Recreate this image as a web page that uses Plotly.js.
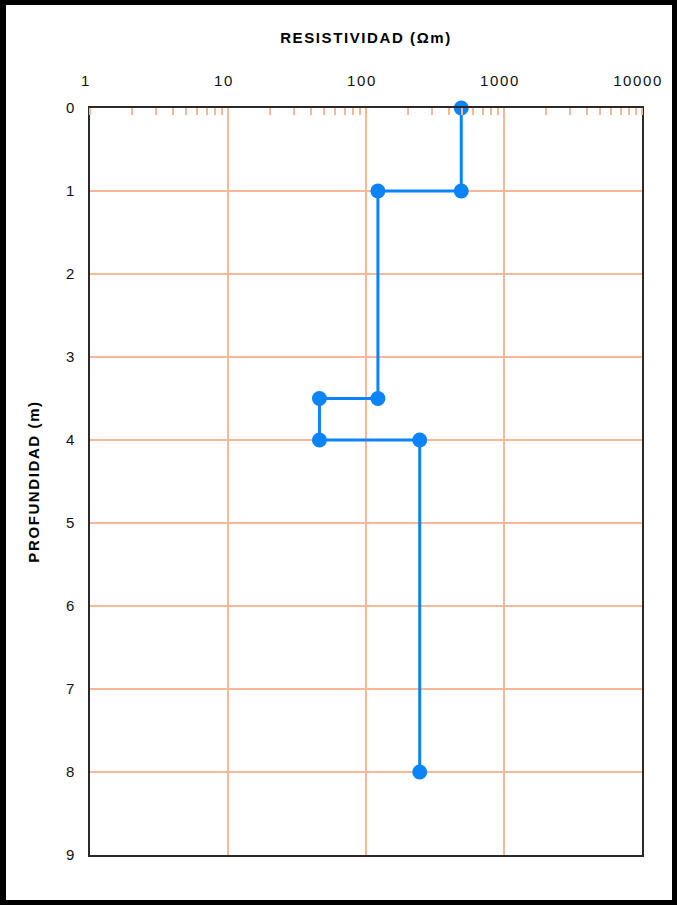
<!DOCTYPE html>
<html>
<head>
<meta charset="utf-8">
<script src="https://cdn.plot.ly/plotly-3.0.1.min.js"></script>
<style>
  html, body { margin: 0; padding: 0; background: #fff; }
  #wrap { position: relative; width: 677px; height: 905px; }
  #chart { position: absolute; left: 0; top: 0; width: 677px; height: 905px; }
  #frame { position: absolute; left: 0; top: 0; width: 677px; height: 905px; box-sizing: border-box;
           border: 5px solid #000; border-left-width: 6px; pointer-events: none; }
  #chart .main-svg text { letter-spacing: 1.6px; }
</style>
</head>
<body>
<div id="wrap">
  <div id="chart"></div>
  <div id="frame"></div>
</div>
<script>
// Data (resistivity in ohm-m, depth in m)
const resistivity = [490, 490, 122, 122, 46, 46, 245, 245];
const depth       = [0, 1, 1, 3.5, 3.5, 4, 4, 8];

const xTickVals = [1, 10, 100, 1000, 10000];
const xTickText = ["1", "10", "100", "1000", "10000"];
const yTickVals = [0, 1, 2, 3, 4, 5, 6, 7, 8, 9];

const titleText = "RESISTIVIDAD (Ωm)";
const yTitleText = "PROFUNDIDAD (m)";

const blue = "#0b84fa";
const grid = "#f6b896";

const trace = {
  x: resistivity,
  y: depth,
  type: "scatter",
  mode: "lines+markers",
  line: { color: blue, width: 3 },
  marker: { color: blue, size: 15 },
  cliponaxis: false,
  hoverinfo: "skip"
};

const layout = {
  width: 677,
  height: 905,
  margin: { l: 90, r: 35, t: 108, b: 50 },
  paper_bgcolor: "#fff",
  plot_bgcolor: "#fff",
  showlegend: false,
  font: { family: "Liberation Sans, Arial, sans-serif", color: "#000", size: 14 },
  title: {
    text: "<b>" + titleText + "</b>",
    font: { family: "Liberation Sans, Arial, sans-serif", size: 15, color: "#000" },
    xref: "paper", x: 0.5, xanchor: "center",
    yref: "container", y: 1 - 38 / 905, yanchor: "middle"
  },
  xaxis: {
    type: "log",
    range: [0, 4],
    side: "top",
    tickvals: xTickVals,
    ticktext: xTickText,
    ticks: "",
    ticklabelstandoff: 14,
    ticklabelshift: -4,
    tickfont: { size: 15, color: "#111" },
    showgrid: true,
    gridcolor: grid,
    gridwidth: 2,
    zeroline: false,
    showline: true,
    mirror: true,
    linecolor: "#2a2a2a",
    linewidth: 2,
    minor: { ticks: "inside", ticklen: 7, tickcolor: grid, tickwidth: 2, dtick: "D1", showgrid: false },
    fixedrange: true
  },
  yaxis: {
    range: [9, 0],
    tickvals: yTickVals,
    ticks: "",
    ticklabelstandoff: 9,
    tickfont: { size: 15, color: "#111" },
    showgrid: true,
    gridcolor: grid,
    gridwidth: 2,
    zeroline: false,
    showline: true,
    mirror: true,
    linecolor: "#2a2a2a",
    linewidth: 2,
    title: {
      text: "<b>" + yTitleText + "</b>",
      font: { size: 15, color: "#000" },
      standoff: 24
    },
    fixedrange: true
  }
};

Plotly.newPlot("chart", [trace], layout, { displayModeBar: false, staticPlot: true });
</script>
</body>
</html>
